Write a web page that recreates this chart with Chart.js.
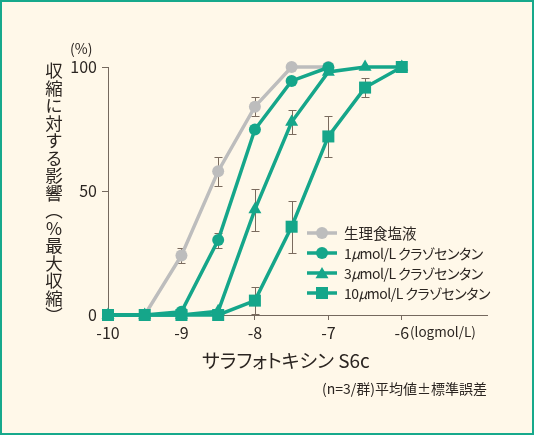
<!DOCTYPE html>
<html><head><meta charset="utf-8">
<script src="https://cdn.jsdelivr.net/npm/chart.js@4.4.1/dist/chart.umd.min.js"></script>
<style>
html,body{margin:0;padding:0;background:#fff8e9;}
#wrap{position:relative;width:534px;height:435px;overflow:hidden;background:#fff8e9;font-family:"Noto Sans CJK JP","Noto Sans",sans-serif;color:#2b2521;}
#frame{position:absolute;left:0;top:0;width:534px;height:435px;box-sizing:border-box;border:2px solid #17a98c;pointer-events:none;}
canvas{position:absolute;left:0;top:0;}
.t{position:absolute;white-space:nowrap;line-height:1;font-feature-settings:"palt";}
#ytitle{writing-mode:vertical-rl;font-size:17.5px;left:45px;top:62px;font-feature-settings:normal;}
</style></head>
<body>
<div id="wrap">
<canvas id="c" width="534" height="435"></canvas>
<div class="t" style="left:70px;top:41px;font-size:14px;">(%)</div>
<div class="t" id="ytitle">収縮に対する影響（％最大収縮）</div>
<div class="t" style="left:410px;top:325px;font-size:13.5px;">(logmol/L)</div>
<div class="t" style="left:202px;top:350px;font-size:19px;">サラフォトキシン S6c</div>
<div class="t" style="right:47px;top:381px;font-size:14px;">(n=3/群)平均値±標準誤差</div>
<div id="legend"></div>
<div id="frame"></div>
</div>
<script>
const concentrations = [-10, -9.5, -9, -8.5, -8, -7.5, -7, -6.5, -6];
const salineValues   = [0, 0, 24, 58, 84, 100, 100, null, null];
const salineErrors   = [0, 0, 3, 5.8, 3.8, 0, 0, null, null];
const clazo1Values   = [0, 0, 1.3, 30.2, 74.8, 94.4, 99.8, null, null];
const clazo1Errors   = [0, 0, 0, 3, 0, 0, 0, null, null];
const clazo3Values   = [0, 0, 0, 1.5, 42.5, 77.8, 98, 100, 100];
const clazo3Errors   = [0, 0, 0, 0, 8.5, 4.8, 0, 0, 0];
const clazo10Values  = [0, 0, 0, 0, 5.8, 35.6, 72, 91.7, 100];
const clazo10Errors  = [0, 0, 0, 0, 5.5, 10.5, 8.4, 3.7, 0];
const xTickValues = [-10, -9, -8, -7, -6];
const xTickLabels = ['-10', '-9', '-8', '-7', '-6'];
const yTickValues = [0, 50, 100];
const yTickLabels = ['0', '50', '100'];
const seriesNames = ['生理食塩液', '1μmol/L クラゾセンタン', '3μmol/L クラゾセンタン', '10μmol/L クラゾセンタン'];

const TEAL = '#15a68a', GRAY = '#bdbdbd', AXIS = '#75695e', TEXT = '#2b2521', ERR = '#7a6b5e';
const FAMILY = '"Noto Sans CJK JP","Noto Sans",sans-serif';
const allValues = [salineValues, clazo1Values, clazo3Values, clazo10Values];
const allErrors = [salineErrors, clazo1Errors, clazo3Errors, clazo10Errors];
const colors = [GRAY, TEAL, TEAL, TEAL];
const styles = ['circle', 'circle', 'triangle', 'rect'];
const radii = [6, 6, 7.5, 8.5];

function pts(vals){ return concentrations.map((x,i)=>({x:x, y:vals[i]})).filter(p=>p.y!==null); }

const lg = document.getElementById('legend');
const legendRows = [233, 253, 273, 293];
seriesNames.forEach((n,i)=>{
  const d = document.createElement('div');
  d.className = 't';
  d.style.left = '344px';
  d.style.top = (legendRows[i]-7.5)+'px';
  d.style.fontSize = (i === 0 ? 14.5 : 14) + 'px';
  d.style.letterSpacing = (i === 0 ? '0px' : '-0.5px');
  d.innerHTML = n.replace('μ','<i>μ</i>');
  lg.appendChild(d);
});

function drawMarker(ctx, style, x, y, r, color){
  ctx.fillStyle = color;
  ctx.beginPath();
  if (style === 'circle') { ctx.arc(x, y, r, 0, Math.PI*2); }
  else if (style === 'triangle') {
    for (let k=0;k<3;k++){ const a = k*2*Math.PI/3; const px = x+Math.sin(a)*r, py = y-Math.cos(a)*r; k?ctx.lineTo(px,py):ctx.moveTo(px,py); }
    ctx.closePath();
  } else { const s = Math.SQRT1_2*r; ctx.rect(x-s, y-s, 2*s, 2*s); }
  ctx.fill();
}

const errorBars = {
  id:'errorBars',
  beforeDatasetsDraw(chart){
    const ctx = chart.ctx, xs = chart.scales.x, ys = chart.scales.y;
    ctx.save(); ctx.strokeStyle = ERR; ctx.lineWidth = 1;
    allErrors.forEach((errs,d)=>{
      concentrations.forEach((c,i)=>{
        const e = errs[i]; if (!e) return;
        const v = allValues[d][i];
        const x = Math.round(xs.getPixelForValue(c))+0.5;
        const y1 = Math.round(ys.getPixelForValue(v+e))+0.5, y2 = Math.round(ys.getPixelForValue(Math.max(0,v-e)))+0.5;
        ctx.beginPath();
        ctx.moveTo(x,y1); ctx.lineTo(x,y2);
        ctx.moveTo(x-4,y1); ctx.lineTo(x+4,y1);
        ctx.moveTo(x-4,y2); ctx.lineTo(x+4,y2);
        ctx.stroke();
      });
    });
    ctx.restore();
  }
};

const legendMarks = {
  id:'legendMarks',
  afterDraw(chart){
    const ctx = chart.ctx; ctx.save();
    legendRows.forEach((y,i)=>{
      ctx.strokeStyle = colors[i]; ctx.lineWidth = 3.5;
      ctx.beginPath(); ctx.moveTo(307,y); ctx.lineTo(337,y); ctx.stroke();
      drawMarker(ctx, styles[i], 322, y + (styles[i]==='triangle'?1.5:0), radii[i], colors[i]);
    });
    ctx.restore();
  }
};

const datasets = allValues.map((vals,i)=>({
  label: seriesNames[i],
  data: pts(vals),
  borderColor: colors[i],
  backgroundColor: colors[i],
  pointBackgroundColor: colors[i],
  pointBorderColor: colors[i],
  pointBorderWidth: 0,
  pointStyle: styles[i],
  pointRadius: radii[i],
  borderWidth: 3.5,
  tension: 0,
  clip: false,
  order: 4 - i
}));

new Chart(document.getElementById('c'), {
  type: 'line',
  data: { datasets },
  options: {
    responsive: false,
    animation: false,
    devicePixelRatio: 1,
    layout: { padding: { left: 0, top: 67, right: 47, bottom: 0 } },
    plugins: { legend: { display: false }, tooltip: { enabled: false } },
    scales: {
      x: {
        type: 'linear', min: -10, max: -4.84,
        afterBuildTicks: s => { s.ticks = xTickValues.map(v=>({value:v})); },
        afterFit: s => { s.height = 120; },
        grid: { drawOnChartArea: false, drawTicks: true, tickLength: 5, color: AXIS, lineWidth: 1 },
        border: { display: true, color: AXIS, width: 1 },
        ticks: { autoSkip: false, maxRotation: 0, padding: 3, color: TEXT, font: { family: FAMILY, size: 16 },
          callback: (v, idx) => xTickLabels[idx] }
      },
      y: {
        type: 'linear', min: 0, max: 100,
        afterBuildTicks: s => { s.ticks = yTickValues.map(v=>({value:v})); },
        afterFit: s => { s.width = 108; },
        grid: { drawOnChartArea: false, drawTicks: true, tickLength: 6, color: AXIS, lineWidth: 1 },
        border: { display: true, color: AXIS, width: 1 },
        ticks: { autoSkip: false, padding: 5, color: TEXT, font: { family: FAMILY, size: 16 },
          callback: (v, idx) => yTickLabels[idx] }
      }
    }
  },
  plugins: [errorBars, legendMarks]
});
</script>
</body></html>
